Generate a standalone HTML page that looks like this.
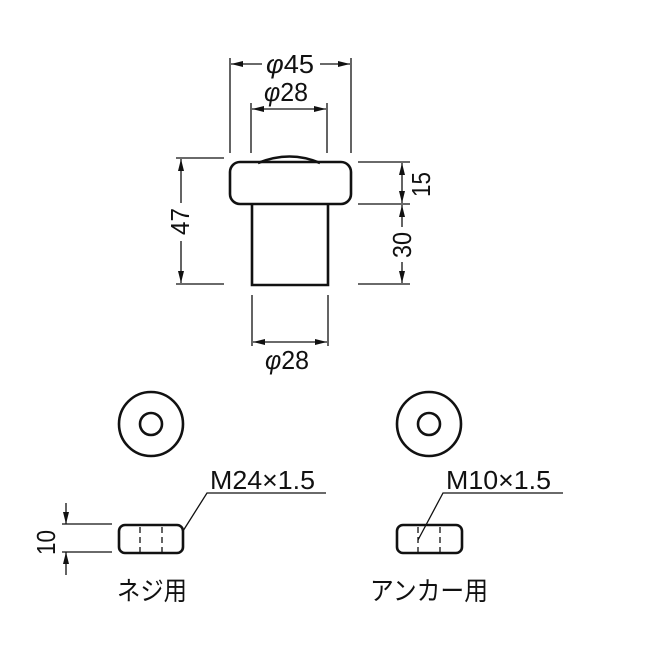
<!DOCTYPE html>
<html><head><meta charset="utf-8"><style>html,body{margin:0;padding:0;background:#fff}svg{display:block}text{font-family:"Liberation Sans","Noto Sans CJK JP",sans-serif;fill:#111}</style></head>
<body>
<svg width="665" height="665" viewBox="0 0 665 665" xmlns="http://www.w3.org/2000/svg">
<defs>
<marker id="a" viewBox="0 0 12 6" refX="12" refY="3" markerWidth="12" markerHeight="6" orient="auto-start-reverse" markerUnits="userSpaceOnUse"><path d="M0,0 L12,3 L0,6 Z" fill="#111"/></marker>
</defs>
<g stroke="#111" fill="none" stroke-width="1.3">
<line x1="230" y1="58" x2="230" y2="153"/>
<line x1="351" y1="58" x2="351" y2="153"/>
<line x1="251" y1="103" x2="251" y2="153"/>
<line x1="327" y1="103" x2="327" y2="153"/>
<line x1="231" y1="64" x2="262" y2="64" marker-start="url(#a)"/>
<line x1="320" y1="64" x2="350" y2="64" marker-end="url(#a)"/>
<line x1="252" y1="109" x2="326" y2="109" marker-start="url(#a)" marker-end="url(#a)"/>
<line x1="176" y1="158" x2="224" y2="158"/>
<line x1="176" y1="284" x2="224" y2="284"/>
<line x1="181" y1="159" x2="181" y2="203" marker-start="url(#a)"/>
<line x1="181" y1="241" x2="181" y2="283" marker-end="url(#a)"/>
<line x1="358" y1="162" x2="410" y2="162"/>
<line x1="358" y1="204" x2="410" y2="204"/>
<line x1="358" y1="284" x2="410" y2="284"/>
<line x1="402" y1="163" x2="402" y2="203" marker-start="url(#a)" marker-end="url(#a)"/>
<line x1="402" y1="205" x2="402" y2="227" marker-start="url(#a)"/>
<line x1="402" y1="262" x2="402" y2="283" marker-end="url(#a)"/>
<line x1="252" y1="295" x2="252" y2="346"/>
<line x1="328" y1="295" x2="328" y2="346"/>
<line x1="253" y1="342" x2="327" y2="342" marker-start="url(#a)" marker-end="url(#a)"/>
</g>
<g stroke="#111" fill="none" stroke-width="2.6">
<path d="M258,163 Q290,150 320,163"/>
<rect x="230" y="162" width="121" height="42" rx="10"/>
<path d="M252,204 V285 H328 V204"/>
<circle cx="151" cy="424" r="32"/>
<circle cx="151" cy="424" r="11"/>
<circle cx="429" cy="424" r="32"/>
<circle cx="429" cy="424" r="11"/>
<rect x="119" y="525" width="64" height="28" rx="6"/>
<rect x="397" y="525" width="65" height="28" rx="6"/>
</g>
<g stroke="#111" fill="none" stroke-width="1.3">
<line x1="140" y1="527" x2="140" y2="552" stroke-dasharray="6,4"/>
<line x1="162" y1="527" x2="162" y2="552" stroke-dasharray="6,4"/>
<line x1="418" y1="527" x2="418" y2="552" stroke-dasharray="6,4"/>
<line x1="440" y1="527" x2="440" y2="552" stroke-dasharray="6,4"/>
<polyline points="183,531 207,493 326,493"/>
<polyline points="418,540 443,493 563,493"/>
<line x1="62" y1="524" x2="112" y2="524"/>
<line x1="62" y1="552" x2="112" y2="552"/>
<line x1="66" y1="503" x2="66" y2="524" marker-end="url(#a)"/>
<line x1="66" y1="575" x2="66" y2="552" marker-end="url(#a)"/>
</g>
<g font-size="26">
<text x="266" y="73" textLength="48" lengthAdjust="spacingAndGlyphs"><tspan font-style="italic">φ</tspan>45</text>
<text x="264" y="101" textLength="44" lengthAdjust="spacingAndGlyphs"><tspan font-style="italic">φ</tspan>28</text>
<text x="265" y="369" textLength="44" lengthAdjust="spacingAndGlyphs"><tspan font-style="italic">φ</tspan>28</text>
<text transform="translate(189,235) rotate(-90)" textLength="27" lengthAdjust="spacingAndGlyphs">47</text>
<text transform="translate(430,197) rotate(-90)" textLength="25" lengthAdjust="spacingAndGlyphs">15</text>
<text transform="translate(411,258) rotate(-90)" textLength="26" lengthAdjust="spacingAndGlyphs">30</text>
<text transform="translate(55,555) rotate(-90)" textLength="25" lengthAdjust="spacingAndGlyphs">10</text>
<text x="210" y="489" textLength="105" lengthAdjust="spacingAndGlyphs">M24×1.5</text>
<text x="446" y="489" textLength="105" lengthAdjust="spacingAndGlyphs">M10×1.5</text>
<text x="117" y="600" textLength="70" lengthAdjust="spacingAndGlyphs">ネジ用</text>
<text x="370" y="600" textLength="118" lengthAdjust="spacingAndGlyphs">アンカー用</text>
</g>
</svg>
</body></html>
